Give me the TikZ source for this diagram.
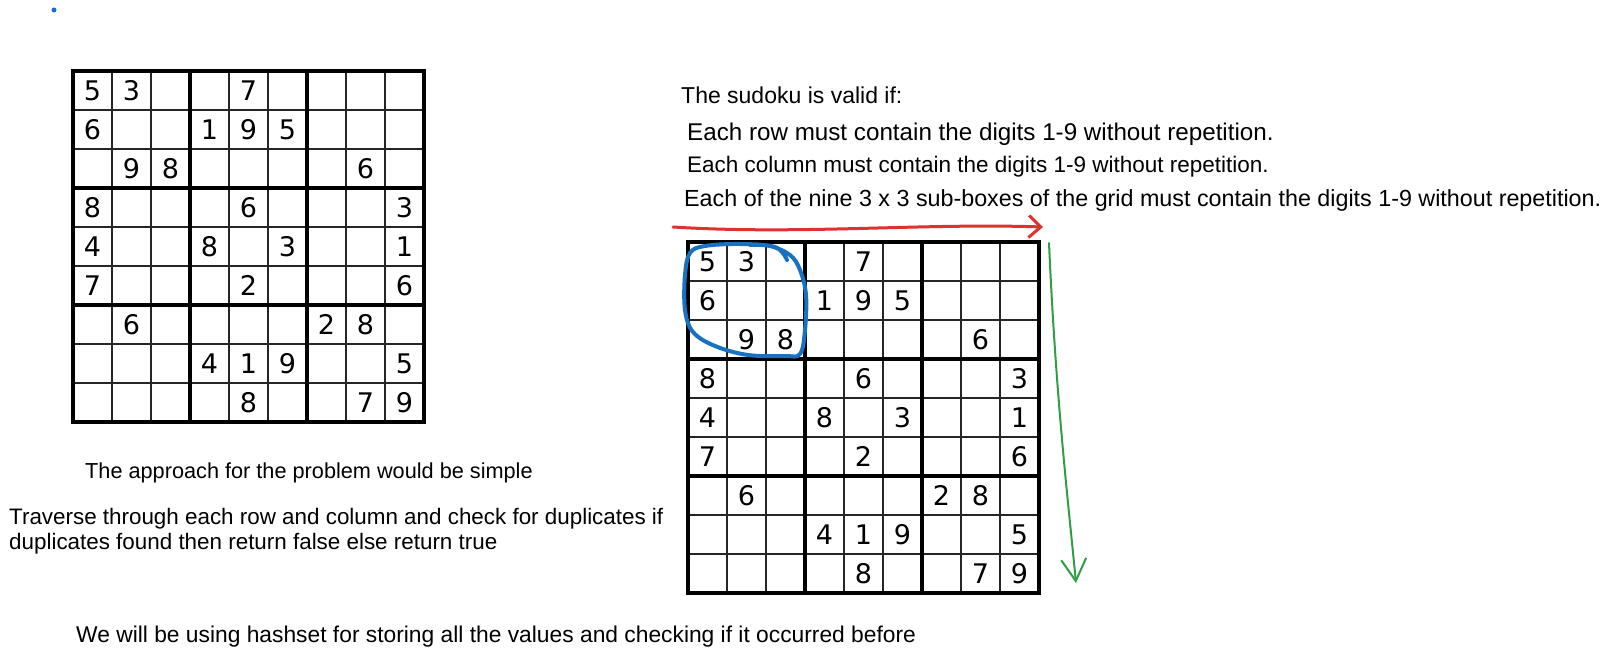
\documentclass[tikz,border=0pt]{standalone}
\usepackage{fontspec}
\setmainfont{Liberation Sans}
\newfontfamily\gridfont{DejaVu Sans}
\usetikzlibrary{arrows.meta}
\definecolor{sketchred}{RGB}{224,49,49}
\definecolor{sketchgreen}{RGB}{47,158,68}
\definecolor{sketchblue}{RGB}{25,113,194}
\tikzset{
  note/.style={anchor=west, inner sep=0pt, font=\fontsize{#1}{25}\selectfont},
  note/.default=23,
  digit/.style={inner sep=0pt, font=\gridfont\fontsize{27}{27}\selectfont},
  thinline/.style={line width=1.6pt, black!85},
  boxline/.style={line width=4pt, black},
}
\begin{document}
\begin{tikzpicture}[x=1pt, y=-1pt]
\useasboundingbox (0,0) rectangle (1612,660);
\fill[white] (0,0) rectangle (1612,660);

% Blue dot
\fill[sketchblue] (54,10) circle (2.5);

% Both sudoku grids
\foreach \gx/\gy/\gn in {73/71/left, 688/242/right} {
  \foreach \i in {1,2,4,5,7,8} {
    \draw[thinline] (\gx+\i*39, \gy) -- (\gx+\i*39, \gy+351);
    \draw[thinline] (\gx, \gy+\i*39) -- (\gx+351, \gy+\i*39);
  }
  \foreach \i in {3,6} {
    \draw[boxline] (\gx+\i*39, \gy) -- (\gx+\i*39, \gy+351);
    \draw[boxline] (\gx, \gy+\i*39) -- (\gx+351, \gy+\i*39);
  }
  \draw[boxline] (\gx,\gy) rectangle (\gx+351,\gy+351);
  % Digits, 0 = empty cell
  \foreach \row [count=\r] in {{5,3,0,0,7,0,0,0,0},{6,0,0,1,9,5,0,0,0},{0,9,8,0,0,0,0,6,0},
                               {8,0,0,0,6,0,0,0,3},{4,0,0,8,0,3,0,0,1},{7,0,0,0,2,0,0,0,6},
                               {0,6,0,0,0,0,2,8,0},{0,0,0,4,1,9,0,0,5},{0,0,0,0,8,0,0,7,9}} {
    \foreach \d [count=\c] in \row {
      \ifnum\d>0
        \node[digit] (\gn-\r-\c) at (\gx+\c*39-19.5, \gy+\r*39-19.5) {\d};
      \fi
    }
  }
}

% Rules text
\node[note] (validif) at (681,95) {The sudoku is valid if:};
\node[note=24.2] (rowrule) at (687,134) {Each row must contain the digits 1-9 without repetition.};
\node[note=22.5] (colrule) at (687,167) {Each column must contain the digits 1-9 without repetition.};
\node[note=23.3] (boxrule) at (684,200) {Each of the nine 3 x 3 sub-boxes of the grid must contain the digits 1-9 without repetition.};

% Row and column sweeps
\coordinate (rowstart) at (673,227);
\coordinate (rowend) at (1043,227);
\draw[sketchred, line width=3pt, line cap=round, -{Straight Barb[length=12pt, width=22pt]}]
  (rowstart) .. controls (800,235) and (920,223) .. (rowend);
\coordinate (colstart) at (1049,243);
\coordinate (colend) at (1076,583);
\draw[sketchgreen, line width=2pt, line cap=round, -{Straight Barb[length=22pt, width=25pt]}]
  (colstart) .. controls (1056,400) and (1068,500) .. (colend);

% Circled sub-box
\draw[sketchblue, line width=4pt, line cap=round, line join=round]
  plot[smooth, tension=0.6] coordinates {(787,260) (775,247) (740,244) (705,246) (690,253)
    (685,275) (685,310) (693,332) (715,346) (748,355) (785,356) (800,354) (805,330)
    (806,295) (800,270) (790,255) (770,246) (750,245)};

% Approach text
\node[note=21.7] (approach) at (85,473) {The approach for the problem would be simple};
\node[note=22.4, align=left] (traverse) at (9,531) {Traverse through each row and column and check for duplicates if\\duplicates found then return false else return true};
\node[note=22.8] (hashset) at (76,637) {We will be using hashset for storing all the values and checking if it occurred before};
\end{tikzpicture}
\end{document}
